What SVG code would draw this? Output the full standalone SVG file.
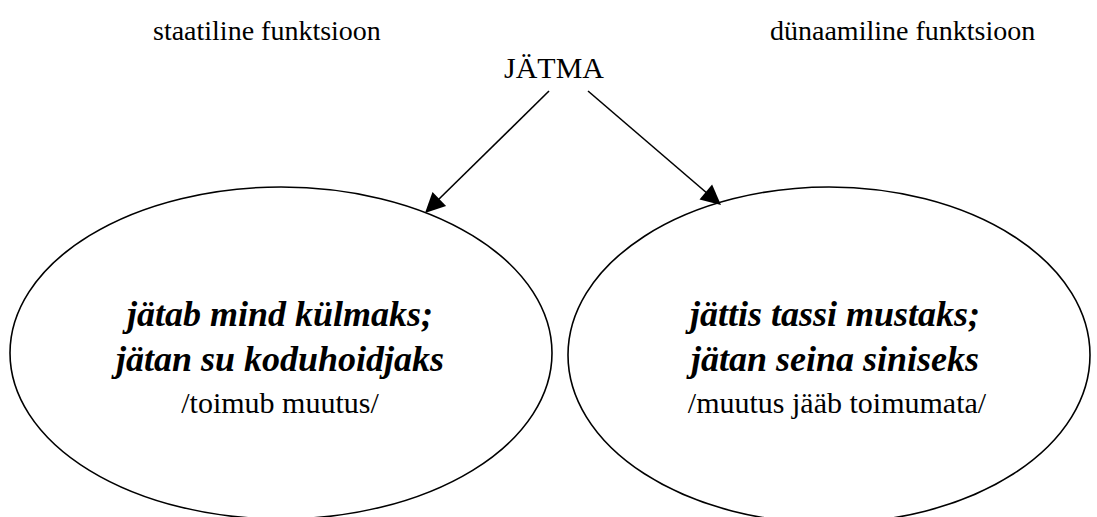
<svg xmlns="http://www.w3.org/2000/svg" width="1097" height="517" viewBox="0 0 1097 517">
  <style>
    .lbl { font-family: "Liberation Serif", "Times New Roman", serif; font-size: 28px; fill: #000; }
    .big { font-family: "Liberation Serif", "Times New Roman", serif; font-size: 36px; font-weight: bold; font-style: italic; fill: #000; text-anchor: middle; }
    .sub { font-family: "Liberation Serif", "Times New Roman", serif; font-size: 30px; fill: #000; text-anchor: middle; }
    .ell { fill: #fff; stroke: #000; stroke-width: 1.6; }
    .conn { stroke: #000; stroke-width: 1.6; fill: none; }
    .head { fill: #000; stroke: none; }
  </style>
  <rect width="1097" height="517" fill="#fff"/>
  <g id="label-static"><text class="lbl" x="153" y="40">staatiline funktsioon</text></g>
  <g id="label-dynamic"><text class="lbl" x="770" y="40">dünaamiline funktsioon</text></g>
  <g id="node-jatma"><text class="lbl" x="554" y="78" text-anchor="middle" style="font-size:30px">JÄTMA</text></g>
  <g id="node-left">
    <ellipse class="ell" cx="281" cy="353" rx="271" ry="166"/>
    <text class="big" x="280" y="326">jätab mind külmaks;</text>
    <text class="big" x="280" y="371">jätan su koduhoidjaks</text>
    <text class="sub" x="280" y="413">/toimub muutus/</text>
  </g>
  <g id="node-right">
    <ellipse class="ell" cx="829" cy="355" rx="261" ry="168"/>
    <text class="big" x="835" y="326">jättis tassi mustaks;</text>
    <text class="big" x="835" y="371">jätan seina siniseks</text>
    <text class="sub" x="837" y="413">/muutus jääb toimumata/</text>
  </g>
  <g id="connectors">
    <line class="conn" x1="549" y1="91" x2="437" y2="201"/>
    <path class="head" d="M425,213 L432.5,192.1 L446.1,205.9 Z"/>
    <line class="conn" x1="588" y1="91" x2="708" y2="194"/>
    <path class="head" d="M721,205 L699.5,199.4 L712.1,184.6 Z"/>
  </g>
</svg>
